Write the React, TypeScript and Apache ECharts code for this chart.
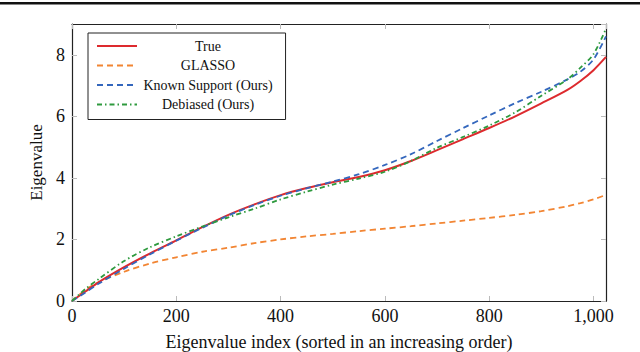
import React, { useEffect, useRef } from "react";
import * as echarts from "echarts";

const indices = [0, 25, 50, 100, 150, 200, 250, 300, 350, 400, 450, 500, 550, 600, 650, 700, 750, 800, 850, 900, 950, 975, 1000, 1024];
const trueVals = [0, 0.3, 0.6, 1.1, 1.55, 1.97, 2.4, 2.8, 3.14, 3.44, 3.67, 3.86, 4.03, 4.25, 4.55, 4.9, 5.26, 5.62, 6.0, 6.42, 6.86, 7.15, 7.5, 7.93];
const glassoVals = [0, 0.35, 0.6, 0.95, 1.22, 1.42, 1.6, 1.73, 1.88, 2.0, 2.1, 2.18, 2.27, 2.35, 2.43, 2.52, 2.61, 2.7, 2.8, 2.92, 3.08, 3.18, 3.3, 3.45];
const knownVals = [0, 0.27, 0.55, 1.05, 1.52, 1.96, 2.38, 2.78, 3.12, 3.42, 3.66, 3.88, 4.12, 4.42, 4.77, 5.2, 5.62, 6.03, 6.43, 6.8, 7.2, 7.45, 7.85, 8.6];
const debiasedVals = [0, 0.38, 0.7, 1.3, 1.75, 2.1, 2.42, 2.72, 3.0, 3.3, 3.55, 3.78, 3.98, 4.2, 4.55, 4.98, 5.33, 5.7, 6.13, 6.67, 7.2, 7.58, 8.02, 8.85];
const seriesNames = ["True", "GLASSO", "Known Support (Ours)", "Debiased (Ours)"];
const xTicks = [0, 200, 400, 600, 800, 1000];
const yTicks = [0, 2, 4, 6, 8];

const FONT = "'Liberation Serif', 'DejaVu Serif', serif";

const pairs = (vals: number[]) => indices.map((x, i) => [x, vals[i]]);

export default function App() {
  const ref = useRef<HTMLDivElement>(null);
  useEffect(() => {
    if (!ref.current) return;
    const chart = echarts.init(ref.current, null, { renderer: "svg" });
    const tickStyle = { show: true, inside: true, length: 5, lineStyle: { color: "#bbbbbb", width: 1 } };
    const axisLine = { show: true, onZero: false, lineStyle: { color: "#222", width: 1.2 } };
    const fmtX = (v: number) => (v >= 1000 ? v.toLocaleString("en-US") : String(v));
    chart.setOption({
      animation: false,
      backgroundColor: "#fff",
      textStyle: { fontFamily: FONT },
      graphic: [
        { type: "rect", shape: { x: 0, y: 2, width: 640, height: 2.5 }, style: { fill: "#111" }, silent: true },
      ],
      grid: { left: 72, right: 34, top: 24, bottom: 51, containLabel: false, outerBoundsMode: "none" },
      legend: {
        orient: "vertical",
        left: 88,
        top: 33,
        data: seriesNames,
        backgroundColor: "#fff",
        borderColor: "#222",
        borderWidth: 1,
        borderRadius: 0,
        padding: [6, 13, 8, 8],
        itemWidth: 40,
        itemHeight: 14,
        itemGap: 5.5,
        itemStyle: { opacity: 0, color: "rgba(0,0,0,0)", borderWidth: 0 },
        formatter: (name: string) => `{t|${name}}`,
        textStyle: {
          fontFamily: FONT,
          fontSize: 14,
          color: "#111",
          rich: { t: { width: 132, align: "center", fontSize: 14, fontFamily: FONT, color: "#111" } },
        },
      },
      xAxis: [
        {
          type: "value",
          min: 0,
          max: 1024,
          interval: 200,
          name: "Eigenvalue index (sorted in an increasing order)",
          nameLocation: "middle",
          nameGap: 32,
          nameTextStyle: { fontFamily: FONT, fontSize: 18, color: "#111" },
          axisLine,
          axisTick: tickStyle,
          splitLine: { show: false },
          axisLabel: {
            fontFamily: FONT,
            fontSize: 18,
            color: "#111",
            margin: 6,
            showMaxLabel: false,
            formatter: (v: number) => (xTicks.includes(v) ? fmtX(v) : ""),
          },
        },
        {
          type: "value",
          position: "top",
          min: 0,
          max: 1024,
          interval: 200,
          axisLine,
          axisTick: tickStyle,
          splitLine: { show: false },
          axisLabel: { show: false },
        },
      ],
      yAxis: [
        {
          type: "value",
          min: 0,
          max: 9,
          interval: 2,
          name: "Eigenvalue",
          nameLocation: "middle",
          nameGap: 26,
          nameTextStyle: { fontFamily: FONT, fontSize: 17, color: "#111" },
          axisLine,
          axisTick: tickStyle,
          splitLine: { show: false },
          axisLabel: {
            fontFamily: FONT,
            fontSize: 18,
            color: "#111",
            margin: 7,
            showMaxLabel: false,
            formatter: (v: number) => (yTicks.includes(v) ? String(v) : ""),
          },
        },
        {
          type: "value",
          position: "right",
          min: 0,
          max: 9,
          interval: 2,
          axisLine,
          axisTick: tickStyle,
          splitLine: { show: false },
          axisLabel: { show: false },
        },
      ],
      series: [
        {
          name: seriesNames[1],
          type: "line",
          data: pairs(glassoVals),
          smooth: 0.3,
          symbol: "none",
          color: "#f28533",
          lineStyle: { color: "#f28533", width: 1.8, type: [6, 4] },
          z: 2,
        },
        {
          name: seriesNames[0],
          type: "line",
          data: pairs(trueVals),
          smooth: 0.3,
          symbol: "none",
          color: "#dd2a2e",
          lineStyle: { color: "#dd2a2e", width: 2, type: "solid" },
          z: 3,
        },
        {
          name: seriesNames[2],
          type: "line",
          data: pairs(knownVals),
          smooth: 0.3,
          symbol: "none",
          color: "#3467bd",
          lineStyle: { color: "#3467bd", width: 1.8, type: [6, 4] },
          z: 4,
        },
        {
          name: seriesNames[3],
          type: "line",
          data: pairs(debiasedVals),
          smooth: 0.3,
          symbol: "none",
          color: "#2e9a3e",
          lineStyle: { color: "#2e9a3e", width: 1.8, type: [5, 3, 1.5, 3] },
          z: 5,
        },
      ],
    });
    return () => chart.dispose();
  }, []);
  return <div ref={ref} style={{ position: "fixed", left: 0, top: 0, width: 640, height: 352 }} />;
}
